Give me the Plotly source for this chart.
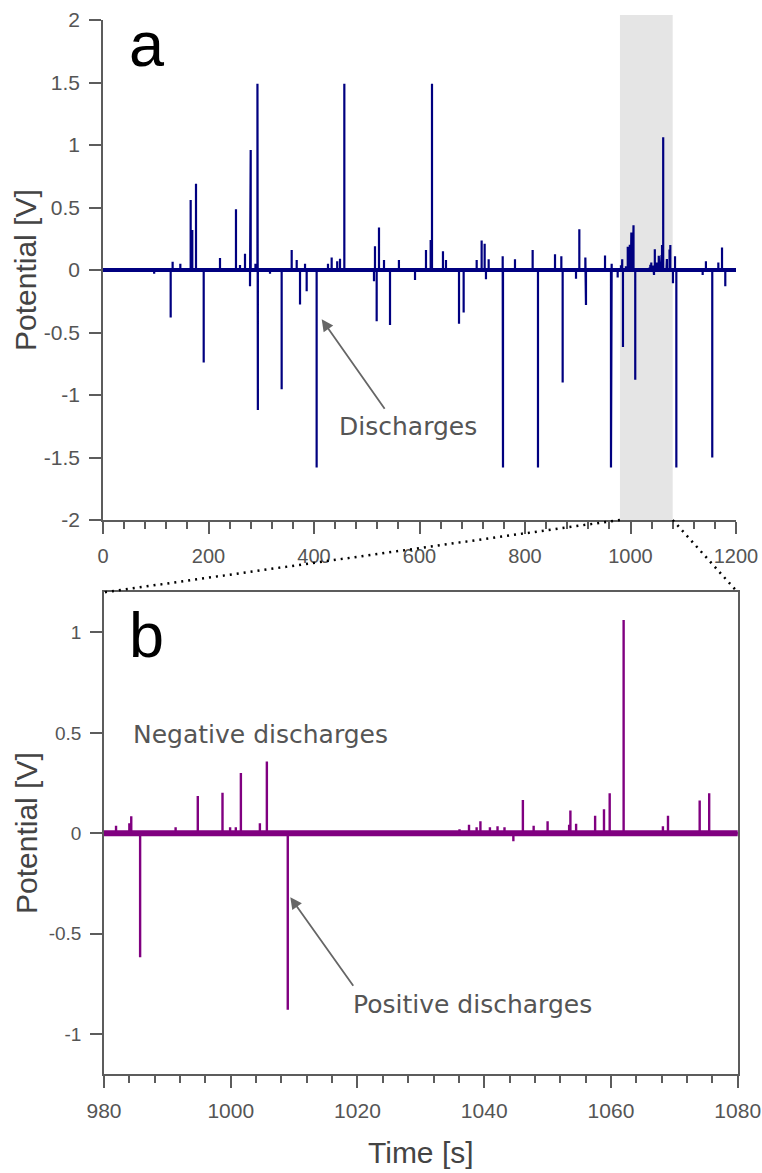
import plotly.graph_objects as go

W, H = 762, 1173

# ---------------- data ----------------
# positive-going spikes: time [s], potential [V]
pos_t = [132.0, 146.6, 166.2, 169.3, 176.3, 221.8, 252.1, 259.7, 269.2, 280.0,
         289.0, 292.8, 357.7, 367.2, 383.0, 426.5, 433.5, 444.0, 449.3, 457.5,
         515.6, 523.2, 532.7, 561.0, 612.3, 621.2, 623.7, 644.5, 650.2, 708.4,
         717.8, 723.5, 731.1, 757.7, 781.0, 814.5, 856.9, 868.9, 903.0, 914.4,
         951.7, 964.3,
         981.9, 984.0, 984.3, 991.3, 994.8, 998.7, 999.9, 1000.8, 1001.6, 1004.6,
         1005.7, 1036.1, 1037.6, 1038.8, 1039.4, 1040.9, 1042.1, 1043.2, 1046.1,
         1047.8, 1050.0, 1053.4, 1053.6, 1054.5, 1057.5, 1058.9, 1059.8, 1062.0,
         1068.2, 1069.0, 1074.0, 1075.5,
         1084.4, 1143.0, 1166.5, 1173.5]
pos_v = [0.066, 0.05, 0.56, 0.32, 0.69, 0.095, 0.485, 0.04, 0.13, 0.96,
         0.05, 1.49, 0.16, 0.08, 0.05, 0.05, 0.10, 0.07, 0.09, 1.49,
         0.19, 0.34, 0.08, 0.08, 0.16, 0.24, 1.49, 0.15, 0.08, 0.08,
         0.235, 0.21, 0.085, 0.11, 0.085, 0.16, 0.125, 0.11, 0.325, 0.10,
         0.115, 0.05,
         0.038, 0.05, 0.085, 0.03, 0.186, 0.2025, 0.03, 0.03, 0.30, 0.05,
         0.357, 0.02, 0.042, 0.03, 0.06, 0.03, 0.035, 0.03, 0.166,
         0.038, 0.06, 0.043, 0.113, 0.047, 0.088, 0.12, 0.199, 1.062,
         0.035, 0.087, 0.163, 0.20,
         0.11, 0.07, 0.06, 0.18]
# negative-going spikes
neg_t = [97.0, 128.3, 190.9, 278.7, 293.6, 316.6, 338.7, 373.5, 386.1, 405.0,
         513.7, 518.8, 544.1, 591.5, 674.9, 683.7, 726.0, 758.3, 824.6, 871.4,
         896.7, 915.6, 963.0, 975.7, 985.7, 1009.0, 1044.6, 1080.5, 1086.9,
         1136.8, 1155.0, 1179.7]
neg_v = [-0.03, -0.38, -0.74, -0.13, -1.12, -0.03, -0.955, -0.275, -0.17, -1.58,
         -0.09, -0.41, -0.44, -0.08, -0.43, -0.34, -0.075, -1.58, -1.58, -0.90,
         -0.07, -0.28, -1.58, -0.06, -0.617, -0.879, -0.04, -0.107, -1.58,
         -0.04, -1.50, -0.13]

t_full = [0, 1200]
t_zoom = [980, 1080]

top_xticks = [0, 200, 400, 600, 800, 1000, 1200]
top_yticks = [-2, -1.5, -1, -0.5, 0, 0.5, 1, 1.5, 2]
top_ylabels = ["-2", "-1.5", "-1", "-0.5", "0", "0.5", "1", "1.5", "2"]
bot_xticks = [980, 1000, 1020, 1040, 1060, 1080]
bot_yticks = [-1, -0.5, 0, 0.5, 1]
bot_ylabels = ["-1", "-0.5", "0", "0.5", "1"]

# ---------------- build the trace path ----------------
events = sorted(zip(pos_t + neg_t, pos_v + neg_v))
xs, ys = [t_full[0]], [0]
for t, v in events:
    xs += [t, t, t]
    ys += [0, v, 0]
xs.append(t_full[1])
ys.append(0)

NAVY = "#000080"
PURPLE = "#800080"
AX = "#5c5c5c"
TICKC = "#555555"

fig = go.Figure()
fig.add_trace(go.Scatter(x=t_full, y=[0, 0], mode="lines", line=dict(color=NAVY, width=4),
                         xaxis="x", yaxis="y", showlegend=False, hoverinfo="skip"))
fig.add_trace(go.Scatter(x=xs, y=ys, mode="lines", line=dict(color=NAVY, width=2.2),
                         xaxis="x", yaxis="y", showlegend=False))
fig.add_trace(go.Scatter(x=t_full, y=[0, 0], mode="lines", line=dict(color=PURPLE, width=6),
                         xaxis="x2", yaxis="y2", showlegend=False, hoverinfo="skip"))
fig.add_trace(go.Scatter(x=xs, y=ys, mode="lines", line=dict(color=PURPLE, width=2.4),
                         xaxis="x2", yaxis="y2", showlegend=False))

# domains (pixel -> paper)
def px(x):
    return x / W

def py(y):
    return 1 - y / H

top_xd = [px(103), px(736)]
top_yd = [py(520), py(20)]
bot_xd = [px(104), px(737.7)]
bot_yd = [py(1074.3), py(592.3)]

FONT = "Liberation Sans, Arial, sans-serif"
common = dict(showgrid=False, zeroline=False, showline=True, linecolor=AX, linewidth=1.5,
              ticks="outside", ticklen=12, tickwidth=1.5, tickcolor=AX,
              ticklabelstandoff=5, automargin=False)

fig.update_layout(
    width=W, height=H, margin=dict(l=0, r=0, t=0, b=0, pad=0, autoexpand=False),
    paper_bgcolor="white", plot_bgcolor="white",
    xaxis=dict(domain=top_xd, range=t_full, anchor="y", tickmode="array", tickvals=top_xticks,
               tickfont=dict(family=FONT, size=20, color=TICKC),
               minor=dict(dtick=40, tick0=0, ticks="outside", ticklen=7, tickwidth=1.5, tickcolor=AX),
               **common),
    yaxis=dict(domain=top_yd, range=[-2, 2], anchor="x", tickmode="array", tickvals=top_yticks,
               ticktext=top_ylabels, tickfont=dict(family=FONT, size=21, color=TICKC), **common),
    xaxis2=dict(domain=bot_xd, range=t_zoom, anchor="y2", tickmode="array", tickvals=bot_xticks,
                tickfont=dict(family=FONT, size=21, color=TICKC),
                minor=dict(dtick=4, tick0=980, ticks="outside", ticklen=7, tickwidth=1.5, tickcolor=AX),
                mirror=True, **common),
    yaxis2=dict(domain=bot_yd, range=[-1.2, 1.2], anchor="x2", tickmode="array", tickvals=bot_yticks,
                ticktext=bot_ylabels, tickfont=dict(family=FONT, size=19, color=TICKC),
                mirror=True, **common),
)

# shaded zoom window in panel a
fig.add_shape(type="rect", xref="x", yref="y domain", x0=t_zoom[0], x1=t_zoom[1], y0=0, y1=1.01,
              fillcolor="#e5e5e5", line=dict(width=0), layer="below")

# dotted connector lines
def top_x_paper(t):
    return top_xd[0] + (t - t_full[0]) / (t_full[1] - t_full[0]) * (top_xd[1] - top_xd[0])

dot = dict(color="black", width=2.5, dash="2px,5px")
fig.add_shape(type="line", xref="paper", yref="paper", x0=top_x_paper(t_zoom[0]), y0=top_yd[0],
              x1=bot_xd[0], y1=bot_yd[1], line=dot)
fig.add_shape(type="line", xref="paper", yref="paper", x0=top_x_paper(t_zoom[1]), y0=top_yd[0],
              x1=bot_xd[1], y1=bot_yd[1], line=dot)

titlefont = dict(family=FONT, size=30, color="#444444")
timefont = dict(family=FONT, size=30, color="#444444")
notefont = dict(family="DejaVu Sans, sans-serif", size=25, color="#555555")
panelfont = dict(family=FONT, size=63, color="black")

ann = [
    dict(text="Potential [V]", xref="paper", yref="paper", x=px(26), y=py(270), textangle=-90,
         showarrow=False, font=titlefont, xanchor="center", yanchor="middle"),
    dict(text="Potential [V]", xref="paper", yref="paper", x=px(26), y=py(833), textangle=-90,
         showarrow=False, font=titlefont, xanchor="center", yanchor="middle"),
    dict(text="Time [s]", xref="paper", yref="paper", x=px(421), y=py(1152), showarrow=False,
         font=timefont, xanchor="center", yanchor="middle"),
    dict(text="a", xref="paper", yref="paper", x=px(127), y=py(44), showarrow=False,
         font=panelfont, xanchor="left", yanchor="middle"),
    dict(text="b", xref="paper", yref="paper", x=px(127), y=py(635), showarrow=False,
         font=panelfont, xanchor="left", yanchor="middle"),
    # Discharges
    dict(text="Discharges", xref="x", yref="y", x=577.6, y=-1.254, showarrow=False,
         font=notefont, xanchor="center", yanchor="middle"),
    dict(text="", xref="x", yref="y", x=414.6, y=-0.394, ax=64, ay=91, showarrow=True,
         arrowhead=2, arrowsize=1.3, arrowwidth=1.8, arrowcolor="#666666"),
    # Negative discharges
    dict(text="Negative discharges", xref="x2", yref="y2", x=1004.7, y=0.491, showarrow=False,
         font=notefont, xanchor="center", yanchor="middle"),
    # Positive discharges
    dict(text="Positive discharges", xref="x2", yref="y2", x=1038.1, y=-0.852, showarrow=False,
         font=notefont, xanchor="center", yanchor="middle"),
    dict(text="", xref="x2", yref="y2", x=1009.4, y=-0.318, ax=64, ay=90, showarrow=True,
         arrowhead=2, arrowsize=1.3, arrowwidth=1.8, arrowcolor="#666666"),
]
fig.update_layout(annotations=ann)

fig.write_html(
    "out.html",
    config={"displayModeBar": False},
    post_script="document.body.style.margin='0px';document.body.style.overflow='hidden';"
                "document.documentElement.style.overflow='hidden';",
)
